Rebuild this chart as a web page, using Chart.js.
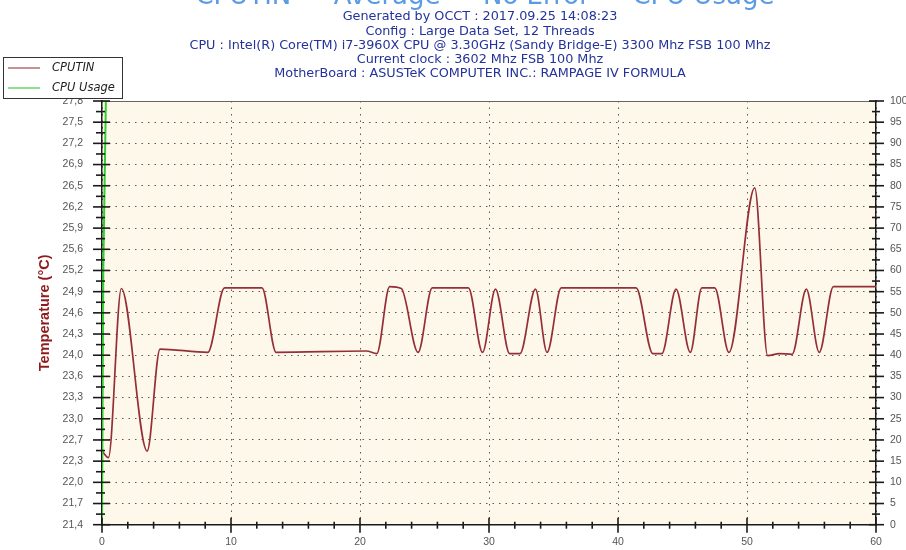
<!DOCTYPE html>
<html>
<head>
<meta charset="utf-8">
<title>OCCT - CPUTIN</title>
<script src="https://cdn.jsdelivr.net/npm/chart.js@4.4.1/dist/chart.umd.min.js"></script>
<style>
  html, body { margin: 0; padding: 0; background: #fff; }
</style>
</head>
<body>
<canvas id="occtChart" width="906" height="550"></canvas>
<script>
// values
const titleText = 'CPUTIN  -  Average  -  No Error  -  CPU Usage';
const headerLines = [
    'Generated by OCCT : 2017.09.25 14:08:23',
    'Config : Large Data Set, 12 Threads',
    'CPU : Intel(R) Core(TM) i7-3960X CPU @ 3.30GHz (Sandy Bridge-E) 3300 Mhz FSB 100 Mhz',
    'Current clock : 3602 Mhz FSB 100 Mhz',
    'MotherBoard : ASUSTeK COMPUTER INC.: RAMPAGE IV FORMULA'
];

const timeSec = [0, 0.5, 1.5, 3.5, 4.5, 8.2, 9.5, 12.4, 13.5, 20.5, 21.3, 22.3, 23.2,
    24.5, 25.6, 28.4, 29.5, 30.5, 31.6, 32.4, 33.6, 34.5, 35.6, 41.4, 42.7, 43.4,
    44.5, 45.6, 46.5, 47.5, 48.6, 50.6, 51.6, 52.5, 53.5, 54.6, 55.6, 56.7, 60];
const cputin = [22.5, 22.4, 24.97, 22.5, 24.05, 24.0, 24.98, 24.98, 24.0, 24.02, 23.98, 25.0, 24.97,
    24.0, 24.98, 24.98, 24.0, 24.96, 23.98, 23.98, 24.96, 24.0, 24.98, 24.98, 23.98, 23.98,
    24.96, 24.0, 24.98, 24.98, 24.0, 26.5, 23.95, 23.98, 23.97, 24.96, 24.0, 25.0, 25.0];

const usageTime = [0, 0.1, 0.3, 60];
const usageValues = [0, 60, 100, 100];

const tempTickLabels = ['21,4', '21,7', '22,0', '22,3', '22,7', '23,0', '23,3', '23,6', '24,0', '24,3',
    '24,6', '24,9', '25,2', '25,6', '25,9', '26,2', '26,5', '26,9', '27,2', '27,5', '27,8'];
const tempMin = 21.38;
const tempStep = 0.322;
const tempMax = tempMin + tempStep * (tempTickLabels.length - 1);

const toPoints = (xs, ys) => xs.map((x, i) => ({ x: x, y: ys[i] }));

// background, frame, tick marks, header and legend box
const occtDecor = {
    id: 'occtDecor',
    beforeDraw(chart) {
        const { ctx, chartArea: a } = chart;
        ctx.save();
        ctx.fillStyle = '#fdf8e9';
        ctx.fillRect(a.left, a.top, a.right - a.left, a.bottom - a.top);
        ctx.restore();
    },
    afterDraw(chart) {
        const { ctx, chartArea: a } = chart;
        const yT = chart.scales.yTemp, yU = chart.scales.yUsage, x = chart.scales.x;
        ctx.save();

        // top border
        ctx.strokeStyle = '#666';
        ctx.lineWidth = 1;
        ctx.beginPath();
        ctx.moveTo(a.left, a.top + 0.5);
        ctx.lineTo(a.right, a.top + 0.5);
        ctx.stroke();

        ctx.strokeStyle = '#1a1a1a';
        ctx.lineWidth = 1.6;
        const tick = (x1, y1, x2, y2) => { ctx.beginPath(); ctx.moveTo(x1, y1); ctx.lineTo(x2, y2); ctx.stroke(); };

        // left axis ticks
        tempTickLabels.forEach((_, i) => {
            const y = yT.getPixelForValue(tempMin + i * tempStep);
            tick(a.left - 9, y, a.left + 8, y);
            if (i < tempTickLabels.length - 1) {
                const ym = yT.getPixelForValue(tempMin + (i + 0.5) * tempStep);
                tick(a.left - 6, ym, a.left + 3, ym);
            }
        });
        // right axis ticks
        for (let v = 0; v <= 100; v += 5) {
            const y = yU.getPixelForValue(v);
            tick(a.right - 7, y, a.right + 8, y);
            if (v < 100) {
                const ym = yU.getPixelForValue(v + 2.5);
                tick(a.right - 4, ym, a.right + 4, ym);
            }
        }
        // bottom axis ticks
        for (let t = 0; t <= 60; t += 2) {
            const px = x.getPixelForValue(t);
            if (t % 10 === 0) tick(px, a.bottom - 7, px, a.bottom + 8);
            else tick(px, a.bottom - 3, px, a.bottom + 4);
        }

        // clipped big title
        ctx.fillStyle = '#5b9be6';
        ctx.font = '26px "DejaVu Sans"';
        ctx.textAlign = 'center';
        ctx.textBaseline = 'alphabetic';
        ctx.fillText(titleText, 485, 4);

        // header lines
        ctx.fillStyle = '#23339a';
        ctx.font = '12.8px "DejaVu Sans"';
        ctx.textBaseline = 'middle';
        headerLines.forEach((line, i) => ctx.fillText(line, 480, 17 + i * 14.25));

        // legend box
        ctx.fillStyle = '#fff';
        ctx.fillRect(3, 57, 119, 41);
        ctx.strokeStyle = '#333';
        ctx.lineWidth = 1;
        ctx.strokeRect(3.5, 57.5, 119, 41);
        const entries = [['CPUTIN', '#a4474a', 68], ['CPU Usage', '#3fd03f', 88]];
        ctx.textAlign = 'left';
        ctx.font = 'italic 11.5px "DejaVu Sans"';
        entries.forEach(([label, color, y]) => {
            ctx.strokeStyle = color;
            ctx.lineWidth = 1.2;
            tick(8, y, 40, y);
            ctx.fillStyle = '#222';
            ctx.fillText(label, 52, y);
        });
        ctx.restore();
    }
};

new Chart(document.getElementById('occtChart'), {
    type: 'line',
    data: {
        datasets: [
            {
                label: 'CPU Usage',
                data: toPoints(usageTime, usageValues),
                yAxisID: 'yUsage',
                borderColor: '#2ed12e',
                borderWidth: 2,
                pointRadius: 0,
                tension: 0
            },
            {
                label: 'CPUTIN',
                data: toPoints(timeSec, cputin),
                yAxisID: 'yTemp',
                borderColor: '#952f37',
                borderWidth: 1.7,
                pointRadius: 0,
                cubicInterpolationMode: 'monotone'
            }
        ]
    },
    options: {
        responsive: false,
        animation: false,
        layout: { padding: { top: 101, left: 0, right: 0, bottom: 0 } },
        plugins: { legend: { display: false }, tooltip: { enabled: false } },
        scales: {
            x: {
                type: 'linear',
                min: 0,
                max: 60,
                afterFit: s => { s.height = 21; },
                ticks: { stepSize: 10, padding: 11, color: '#555', font: { family: 'Liberation Sans', size: 10.5 } },
                grid: { color: '#5a5a5a', lineWidth: 1, drawTicks: false },
                border: { display: true, color: '#1a1a1a', width: 1.5, dash: [1.5, 5] }
            },
            yTemp: {
                type: 'linear',
                position: 'left',
                min: tempMin,
                max: tempMax,
                afterFit: s => { s.width = 102; },
                afterBuildTicks: s => { s.ticks = tempTickLabels.map((_, i) => ({ value: tempMin + i * tempStep })); },
                ticks: {
                    padding: 19,
                    color: '#555',
                    font: { family: 'Liberation Sans', size: 10.5 },
                    callback: (value, index) => tempTickLabels[index]
                },
                title: {
                    display: true,
                    text: 'Temperature (°C)',
                    color: '#8e1c1c',
                    font: { family: 'Liberation Sans', size: 14.5, weight: 'bold' },
                    padding: { top: 36, bottom: 0 }
                },
                grid: { color: '#5a5a5a', lineWidth: 1, drawTicks: false },
                border: { display: true, color: '#1a1a1a', width: 1.5, dash: [1.5, 5] }
            },
            yUsage: {
                type: 'linear',
                position: 'right',
                min: 0,
                max: 100,
                afterFit: s => { s.width = 30; },
                ticks: { stepSize: 5, padding: 14, color: '#555', font: { family: 'Liberation Sans', size: 10.5 } },
                grid: { drawOnChartArea: false, drawTicks: false },
                border: { display: true, color: '#1a1a1a', width: 1.5 }
            }
        }
    },
    plugins: [occtDecor]
});
</script>
</body>
</html>
